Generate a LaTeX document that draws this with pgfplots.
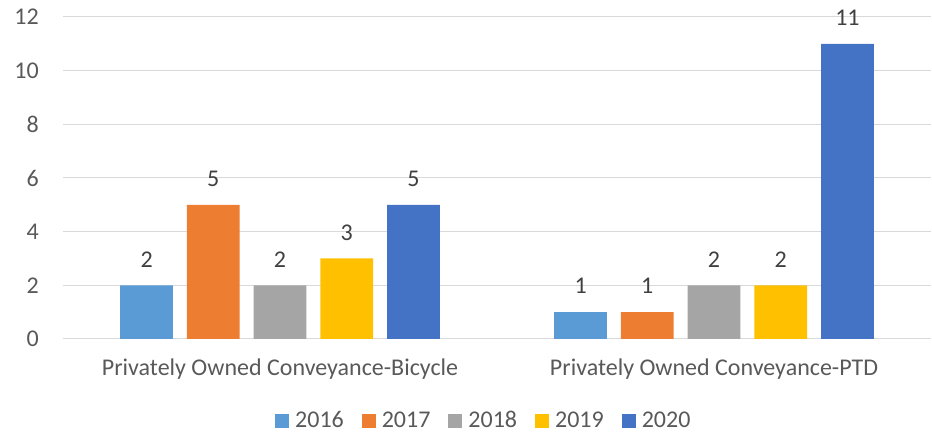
\documentclass[border=0pt]{standalone}
\usepackage{pgfplots}
\pgfplotsset{compat=1.18}
\usepackage{fontspec}
\setmainfont{Carlito}
\definecolor{c16}{HTML}{5B9BD5}
\definecolor{c17}{HTML}{ED7D31}
\definecolor{c18}{HTML}{A5A5A5}
\definecolor{c19}{HTML}{FFC000}
\definecolor{c20}{HTML}{4472C4}
\definecolor{gridc}{HTML}{D9D9D9}
\definecolor{tickc}{HTML}{595959}
\definecolor{labc}{HTML}{404040}
\newcommand{\cf}{\fontsize{24pt}{28pt}\selectfont}
\begin{document}
\cf
\begin{tikzpicture}
\useasboundingbox (0,0) rectangle (932pt,433pt);
\begin{axis}[
 at={(63pt,94pt)}, anchor=south west,
 scale only axis, width=868pt, height=322pt,
 xmin=-0.5, xmax=1.5, ymin=0, ymax=12,
 ytick={0,2,...,12},
 xtick={0,1},
 xticklabels={Privately Owned Conveyance-Bicycle, Privately Owned Conveyance-PTD},
 axis line style={draw=none},
 major tick length=0pt,
 ymajorgrids, grid style={color=gridc, line width=1pt},
 tick label style={color=tickc, font=\cf},
 yticklabel style={anchor=east, inner sep=0pt, xshift=-24pt},
 xticklabel style={anchor=base, inner sep=0pt, yshift=-37pt},
 /pgf/number format/assume math mode=true,
 ybar, bar width=0.1214,
 nodes near coords,
 nodes near coords style={anchor=south, inner sep=0pt, yshift=18pt, color=labc, font=\cf},
 clip=false,
 legend columns=5,
 legend style={at={(0.2442,-0.2560)}, anchor=west, draw=none, fill=none, inner sep=0pt,
   nodes={inner sep=0pt, anchor=base, text=tickc, font=\cf},
   /tikz/every odd column/.append style={column sep=6pt},
   /tikz/every even column/.append style={column sep=18pt}},
 legend image code/.code={\fill[#1] (0pt,0pt) rectangle (14pt,14pt);},
]
\addplot[fill=c16, draw=none, bar shift=-0.3074] coordinates {(0,2) (1,1)};
\addplot[fill=c17, draw=none, bar shift=-0.1537] coordinates {(0,5) (1,1)};
\addplot[fill=c18, draw=none, bar shift=0] coordinates {(0,2) (1,2)};
\addplot[fill=c19, draw=none, bar shift=0.1537] coordinates {(0,3) (1,2)};
\addplot[fill=c20, draw=none, bar shift=0.3074] coordinates {(0,5) (1,11)};
\legend{2016,2017,2018,2019,2020}
\end{axis}
\end{tikzpicture}
\end{document}
